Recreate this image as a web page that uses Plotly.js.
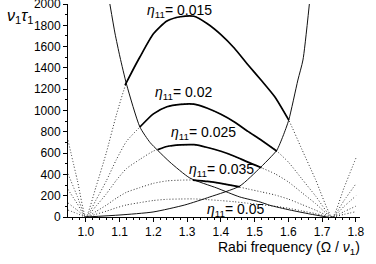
<!DOCTYPE html>
<html>
<head>
<meta charset="utf-8">
<script src="https://cdn.plot.ly/plotly-3.0.1.min.js"></script>
<style>html,body{margin:0;padding:0;background:#fff;}#chart{width:376px;height:264px;}</style>
</head>
<body>
<div id="chart"></div>
<script>
// Rabi frequency grid for the full (dotted) curves
const omega = [0.947, 0.975, 1.0, 1.03, 1.06, 1.09, 1.12, 1.16, 1.2, 1.24, 1.28, 1.32, 1.36, 1.4, 1.44, 1.48, 1.52, 1.56, 1.6, 1.64, 1.68, 1.73, 1.765, 1.8];
const eta015 = [720, 340, 0, 284, 598, 955, 1260, 1502, 1720, 1840, 1880, 1885, 1815, 1713, 1585, 1430, 1282, 1127, 915, 634, 354, 0, 277, 554];
const eta020 = [405, 191, 0, 160, 336, 537, 709, 845, 968, 1035, 1058, 1060, 1021, 964, 892, 804, 721, 634, 515, 357, 199, 0, 156, 312];
const eta025 = [259, 122, 0, 102, 215, 344, 454, 541, 619, 662, 677, 679, 653, 617, 571, 515, 462, 406, 329, 228, 127, 0, 100, 199];
const eta035 = [132, 63, 0, 52, 110, 176, 232, 276, 316, 339, 346, 347, 334, 315, 292, 263, 236, 207, 168, 117, 65, 0, 51, 102];
const eta050 = [65, 31, 0, 26, 54, 86, 113, 135, 155, 166, 169, 170, 163, 154, 143, 129, 115, 101, 82, 57, 32, 0, 25, 50];

// Solid (valid-range) segments
const thick015X = [1.116, 1.14, 1.16, 1.2, 1.24, 1.28, 1.32, 1.36, 1.4, 1.44, 1.48, 1.52, 1.56, 1.601];
const thick015Y = [1239, 1385, 1502, 1720, 1840, 1880, 1885, 1815, 1713, 1585, 1430, 1282, 1127, 910];
const thick020X = [1.16, 1.2, 1.24, 1.28, 1.32, 1.36, 1.4, 1.44, 1.48, 1.52, 1.566];
const thick020Y = [845, 968, 1035, 1058, 1060, 1021, 964, 892, 804, 721, 617];
const thick025X = [1.213, 1.24, 1.28, 1.32, 1.36, 1.4, 1.44, 1.48, 1.52];
const thick025Y = [633, 662, 677, 679, 653, 617, 571, 515, 462];
const thick035X = [1.317, 1.36, 1.4, 1.44, 1.456];
const thick035Y = [347, 334, 315, 292, 283];

// Thin boundary curves
const boundAX = [1.071, 1.086, 1.101, 1.121, 1.16, 1.19, 1.213, 1.249, 1.308, 1.388, 1.456, 1.516, 1.545, 1.604, 1.664, 1.714];
const boundAY = [2000, 1728, 1502, 1239, 845, 700, 625, 515, 366, 272, 188, 141, 110, 66, 28, 0];
const boundBX = [1.0, 1.101, 1.199, 1.293, 1.367, 1.456, 1.516, 1.545, 1.566, 1.584, 1.601, 1.628, 1.643, 1.662];
const boundBY = [0, 19, 47, 113, 188, 291, 462, 554, 629, 760, 911, 1286, 1474, 2000];

// Labels
const labelText = ["0.015", "0.02", "0.025", "0.035", "0.05"];
const labelX = [1.175, 1.198, 1.245, 1.3, 1.352];
const labelY = [1930, 1160, 785, 440, 70];

const xTickVals = [1.0, 1.1, 1.2, 1.3, 1.4, 1.5, 1.6, 1.7, 1.8];
const yTickVals = [0, 200, 400, 600, 800, 1000, 1200, 1400, 1600, 1800, 2000];

const FONT = "Liberation Sans, Arial, sans-serif";
const dotted = {color: "#333", width: 1, dash: "1px,2px", shape: "spline", smoothing: 0.6};
const thick = {color: "#000", width: 1.7, shape: "spline", smoothing: 0.6};
const thin = {color: "#111", width: 1, shape: "spline", smoothing: 0.6};

const traces = [];
[eta015, eta020, eta025, eta035, eta050].forEach(function (ys) {
  traces.push({x: omega, y: ys, mode: "lines", line: dotted, hoverinfo: "skip"});
});
traces.push({x: boundAX, y: boundAY, mode: "lines", line: thin, hoverinfo: "skip"});
traces.push({x: boundBX, y: boundBY, mode: "lines", line: thin, hoverinfo: "skip"});
[[thick015X, thick015Y], [thick020X, thick020Y], [thick025X, thick025Y], [thick035X, thick035Y]].forEach(function (p) {
  traces.push({x: p[0], y: p[1], mode: "lines", line: thick, hoverinfo: "skip"});
});

const annotations = labelText.map(function (t, i) {
  return {x: labelX[i], y: labelY[i], xref: "x", yref: "y", xanchor: "left", yanchor: "middle",
    text: "<i>η</i><sub>11</sub>= " + t, showarrow: false, font: {family: FONT, size: 14, color: "#000"}};
});
annotations.push({x: 0, y: 1, xref: "paper", yref: "paper", xanchor: "left", yanchor: "top",
  xshift: -63, yshift: -1,
  text: "<i>ν</i><sub>1</sub><i>τ</i><sub>1</sub>", showarrow: false, font: {family: FONT, size: 16, color: "#000"}});
annotations.push({x: 1, y: 0, xref: "paper", yref: "paper", xanchor: "right", yanchor: "top",
  xshift: 2, yshift: -20,
  text: "Rabi frequency (Ω / <i>ν</i><sub>1</sub>)", showarrow: false, font: {family: FONT, size: 14, color: "#000"}});

const layout = {
  width: 376, height: 264,
  margin: {l: 68, r: 16, t: 4, b: 47},
  paper_bgcolor: "#fff", plot_bgcolor: "#fff",
  showlegend: false,
  font: {family: FONT, size: 12, color: "#000"},
  xaxis: {range: [0.947, 1.812], tickvals: xTickVals, tickformat: ".1f", ticks: "outside", ticklen: 4,
    tickcolor: "#000", showline: true, linecolor: "#000", linewidth: 1, showgrid: false, zeroline: false,
    minor: {dtick: 0.02, tick0: 1.0, ticks: "outside", ticklen: 2, tickcolor: "#000"},
    tickfont: {family: FONT, size: 12, color: "#000"}},
  yaxis: {range: [0, 2000], tickvals: yTickVals, ticks: "outside", ticklen: 4, ticklabeloverflow: "allow",
    tickcolor: "#000", showline: true, linecolor: "#000", linewidth: 1, showgrid: false, zeroline: false,
    minor: {dtick: 100, tick0: 0, ticks: "outside", ticklen: 2, tickcolor: "#000"},
    tickfont: {family: FONT, size: 12, color: "#000"}},
  annotations: annotations
};

Plotly.newPlot("chart", traces, layout, {displayModeBar: false, staticPlot: true});
</script>
</body>
</html>
